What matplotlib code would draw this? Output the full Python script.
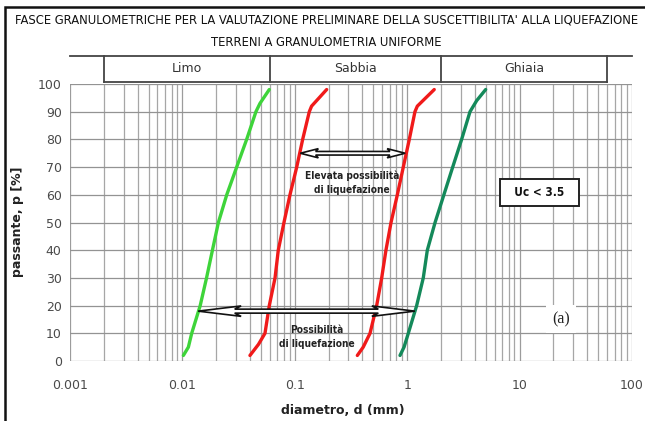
import numpy as np
import matplotlib
matplotlib.use("Agg")
import matplotlib.pyplot as plt
from matplotlib.patches import Polygon, Rectangle
from matplotlib.transforms import IdentityTransform

# ---- grading curves: diameter d (mm) vs passing p (%) ----
limo_d = [0.0102, 0.0113, 0.0121, 0.0144, 0.0164, 0.0185, 0.0209, 0.0248,
          0.0304, 0.0373, 0.0451, 0.0490, 0.0593]
limo_p = [2, 5, 10, 20, 30, 40, 50, 60, 70, 80, 90, 93, 98]

red_left_d = [0.0399, 0.0475, 0.0543, 0.0593, 0.0667, 0.0713, 0.0801, 0.0906,
              0.104, 0.1175, 0.1346, 0.141, 0.192]
red_left_p = [2, 6, 10, 20, 30, 40, 50, 60, 70, 80, 90, 92, 98]

red_right_d = [0.36, 0.406, 0.467, 0.535, 0.593, 0.647, 0.718, 0.817, 0.923,
               1.044, 1.172, 1.23, 1.74]
red_right_p = [2, 5, 10, 20, 30, 40, 50, 60, 70, 80, 90, 92, 98]

dark_d = [0.863, 0.937, 1.023, 1.214, 1.39, 1.51, 1.77, 2.12, 2.54, 3.05,
          3.62, 4.15, 4.99]
dark_p = [2, 5, 10, 20, 30, 40, 50, 60, 70, 80, 90, 94, 98]

# soil classes shown in the band above the plot
class_names = ["Limo", "Sabbia", "Ghiaia"]
class_bounds = [0.002, 0.06, 2.0, 60.0]

# ranges marked by the double arrows
elevata_p = 75
elevata_range = (0.112, 0.96)
possib_p = 18
possib_range = (0.0138, 1.17)

x_ticks = [0.001, 0.01, 0.1, 1, 10, 100]
x_ticklabels = ["0.001", "0.01", "0.1", "1", "10", "100"]
y_ticks = list(range(0, 101, 10))

title1 = "FASCE GRANULOMETRICHE PER LA VALUTAZIONE PRELIMINARE DELLA SUSCETTIBILITA' ALLA LIQUEFAZIONE"
title2 = "TERRENI A GRANULOMETRIA UNIFORME"

W, H = 645, 421
fig = plt.figure(figsize=(W / 100, H / 100), dpi=100)
fig.patch.set_facecolor("white")

def px(x, y):
    """figure pixel (from top-left) -> figure fraction"""
    return x / W, 1 - y / H

ax_l, ax_r, ax_t, ax_b = 70, 632, 84, 361
ax = fig.add_axes([ax_l / W, 1 - ax_b / H, (ax_r - ax_l) / W, (ax_b - ax_t) / H])
ax.set_xscale("log")
ax.set_xlim(1e-3, 1e2)
ax.set_ylim(0, 100)
for s in ax.spines.values():
    s.set_visible(False)

ax.set_xticks(x_ticks)
ax.set_xticklabels(x_ticklabels)
ax.set_yticks(y_ticks)
ax.xaxis.set_minor_locator(matplotlib.ticker.LogLocator(base=10, subs=np.arange(2, 10)))
ax.xaxis.set_minor_formatter(matplotlib.ticker.NullFormatter())
ax.grid(True, which="major", axis="x", color="#9c9c9c", lw=0.9)
ax.grid(True, which="minor", axis="x", color="#a6a6a6", lw=0.9)
ax.grid(True, which="major", axis="y", color="#939393", lw=0.9)
ax.tick_params(which="both", length=0)
ax.tick_params(axis="x", pad=13, labelsize=9, labelcolor="#4a4a4a")
ax.tick_params(axis="y", pad=6, labelsize=9, labelcolor="#4a4a4a")
ax.set_axisbelow(True)

# curves
lw = 2.4
ax.plot(limo_d, limo_p, color="#3ed43a", lw=lw, solid_capstyle="round", zorder=4)
ax.plot(red_left_d, red_left_p, color="#f01a1a", lw=lw, solid_capstyle="round", zorder=4)
ax.plot(red_right_d, red_right_p, color="#f01a1a", lw=lw, solid_capstyle="round", zorder=4)
ax.plot(dark_d, dark_p, color="#14895a", lw=lw, solid_capstyle="round", zorder=4)

# class band above the plot
bt = ax.get_xaxis_transform()
y_top, y_bot = 1.101, 1.008
ax.plot([1e-3, 1e2], [y_top, y_top], transform=bt, color="#444444", lw=1.3, clip_on=False)
ax.plot([class_bounds[0], class_bounds[-1]], [y_bot, y_bot], transform=bt,
        color="#444444", lw=1.3, clip_on=False)
for b in class_bounds:
    ax.plot([b, b], [y_bot, y_top], transform=bt, color="#444444", lw=1.3, clip_on=False)
for name, a, b in zip(class_names, class_bounds[:-1], class_bounds[1:]):
    ax.text(np.sqrt(a * b), (y_top + y_bot) / 2, name, transform=bt, ha="center",
            va="center", fontsize=9, color="#333333")

# hollow double arrows
def hollow_arrow(x0, x1, y, head, half_shaft, half_head):
    X0, Y = ax.transData.transform((x0, y))
    X1, _ = ax.transData.transform((x1, y))
    j = head * 0.85
    verts = [(X0, Y), (X0 + head, Y + half_head), (X0 + j, Y + half_shaft),
             (X1 - j, Y + half_shaft), (X1 - head, Y + half_head), (X1, Y),
             (X1 - head, Y - half_head), (X1 - j, Y - half_shaft),
             (X0 + j, Y - half_shaft), (X0 + head, Y - half_head)]
    poly = Polygon(verts, closed=True, transform=IdentityTransform(),
                   facecolor="white", edgecolor="#111111", lw=1.2, zorder=3,
                   clip_on=False)
    fig.add_artist(poly)

hollow_arrow(elevata_range[0], elevata_range[1], elevata_p, 18, 1.8, 4.6)
hollow_arrow(possib_range[0], possib_range[1], possib_p, 43, 2.0, 5.2)

cond = dict(family="DejaVu Sans", fontstretch="condensed")
ax.text(0.323, 64.4, "Elevata possibilità\ndi liquefazione", ha="center", va="center",
        fontsize=7.3, fontweight="bold", color="#222222",
        linespacing=1.5, zorder=5, **cond)
ax.text(0.1575, 8.7, "Possibilità\ndi liquefazione", ha="center", va="center",
        fontsize=7.3, fontweight="bold", color="#222222",
        linespacing=1.5, zorder=5, **cond)

ax.text(14.96, 60.8, "  Uc < 3.5  ", ha="center", va="center", fontsize=8.5,
        fontweight="bold", color="#111111", zorder=5,
        bbox=dict(boxstyle="square,pad=0.6", fc="white", ec="#222222", lw=1.4),
        **cond)

ax.text(23.3, 15.2, "(a)", ha="center", va="center", fontsize=11.5,
        family=["Liberation Serif", "DejaVu Serif"], color="#222222", zorder=5,
        bbox=dict(boxstyle="square,pad=0.4", fc="white", ec="none"))

# axis labels
fig.text(*px(343, 411), "diametro, d (mm)", ha="center", va="center",
         fontsize=9, fontweight="bold", color="#222222")
fig.text(*px(18, 222), "passante, p [%]", ha="center", va="center", rotation=90,
         fontsize=9, fontweight="bold", color="#222222")

# titles
fig.text(*px(327, 20), title1, ha="center", va="center", fontsize=9.3,
         color="#111111", **cond)
fig.text(*px(326, 42), title2, ha="center", va="center", fontsize=9.3,
         color="#111111", **cond)

# outer frame (left and top edges)
fig.add_artist(Rectangle(px(4.5, 430), (W + 10) / W, (430 - 6.5) / H,
                         transform=fig.transFigure, fill=False, ec="#111111",
                         lw=1.8, clip_on=False))

fig.savefig("out.png", dpi=100)
